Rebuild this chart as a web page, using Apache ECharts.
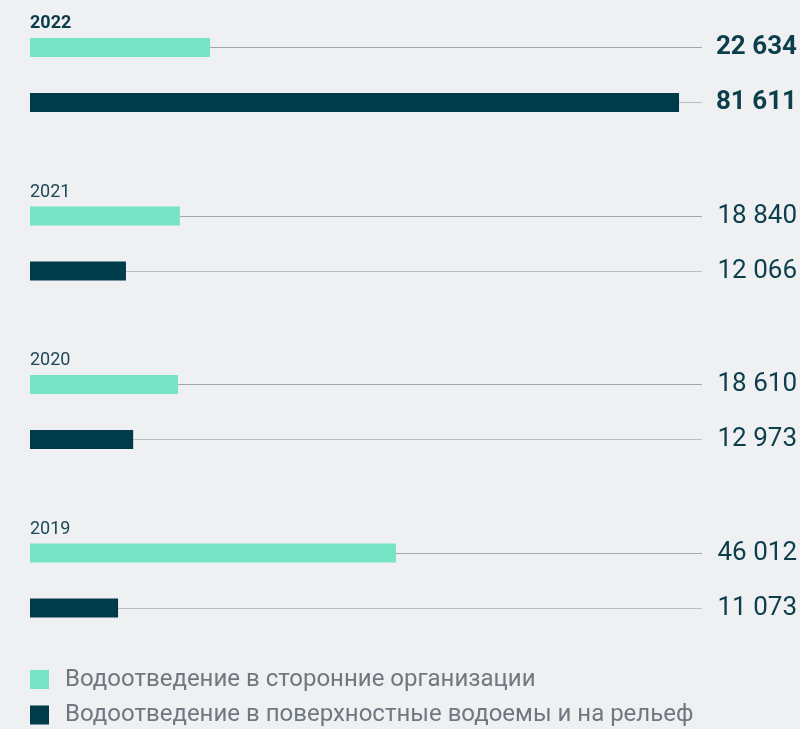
<!DOCTYPE html>
<html>
<head>
<meta charset="utf-8">
<script src="https://cdn.jsdelivr.net/npm/echarts@6/dist/echarts.min.js"></script>
<style>
  html, body { margin: 0; padding: 0; background: #eef0f2; }
  #chart { width: 800px; height: 729px; }
</style>
</head>
<body>
<div id="chart"></div>
<script>
// Wastewater discharge by year, m³
const years = ['2022', '2021', '2020', '2019'];
const thirdParty = [22634, 18840, 18610, 46012];
const surface = [81611, 12066, 12973, 11073];
const seriesNames = [
  'Водоотведение в сторонние организации',
  'Водоотведение в поверхностные водоемы и на рельеф'
];

const TEAL = '#75e3c4';
const DARK = '#003b4b';
const TEXT = '#0c3e4c';

function fmt(v) {
  return String(v).replace(/\B(?=(\d{3})+(?!\d))/g, ' ');
}

const chart = echarts.init(document.getElementById('chart'), null, { renderer: 'canvas' });

const grids = [], xAxes = [], yAxes = [], series = [], titles = [];
years.forEach((year, i) => {
  const top = 47.5 + 168.5 * i;
  grids.push({ left: 30, width: 673, top: top, height: 55 });
  xAxes.push({ gridIndex: i, type: 'value', min: 0, max: 84500, show: false });
  // left axis: only the guide lines running through each bar row
  yAxes.push({
    gridIndex: i, type: 'category', inverse: true, boundaryGap: false,
    data: ['a', 'b'],
    axisLine: { show: false }, axisTick: { show: false }, axisLabel: { show: false },
    splitLine: { show: true, lineStyle: { color: ['#9ea8b2', '#b5c1c7'], width: 1 } }
  });
  // right axis: value labels
  yAxes.push({
    gridIndex: i, type: 'category', inverse: true, boundaryGap: false, position: 'right',
    data: [fmt(thirdParty[i]), fmt(surface[i])],
    axisLine: { show: false }, axisTick: { show: false }, splitLine: { show: false },
    axisLabel: {
      align: 'right', margin: 95, fontSize: 26, color: TEXT, padding: [4, 0, 0, 0],
      fontFamily: 'Roboto', fontWeight: i === 0 ? 'bold' : 'normal'
    }
  });
  series.push({
    type: 'bar', name: seriesNames[0], xAxisIndex: i, yAxisIndex: i * 2,
    data: [thirdParty[i], '-'], barWidth: 19, barGap: '-100%', clip: false,
    itemStyle: { color: TEAL }
  });
  series.push({
    type: 'bar', name: seriesNames[1], xAxisIndex: i, yAxisIndex: i * 2,
    data: ['-', surface[i]], barWidth: 19, barGap: '-100%', clip: false,
    itemStyle: { color: DARK }
  });
  titles.push({
    text: year, left: 30, top: top - 33, padding: 0,
    textStyle: {
      fontFamily: 'Roboto', fontSize: 18, color: i === 0 ? '#0b3a4a' : '#1c4858',
      fontWeight: i === 0 ? 'bold' : 'normal'
    }
  });
});

chart.setOption({
  backgroundColor: '#eef0f2',
  animation: false,
  textStyle: { fontFamily: 'Roboto' },
  title: titles,
  grid: grids,
  xAxis: xAxes,
  yAxis: yAxes,
  series: series,
  legend: {
    data: seriesNames,
    orient: 'vertical',
    left: 30, top: 667.5,
    itemWidth: 19, itemHeight: 19, itemGap: 11.5,
    icon: 'rect',
    padding: 0,
    textStyle: { fontFamily: 'Roboto', fontSize: 24, color: '#6f7880', padding: [0, 0, 0, 11] }
  }
});
</script>
</body>
</html>
